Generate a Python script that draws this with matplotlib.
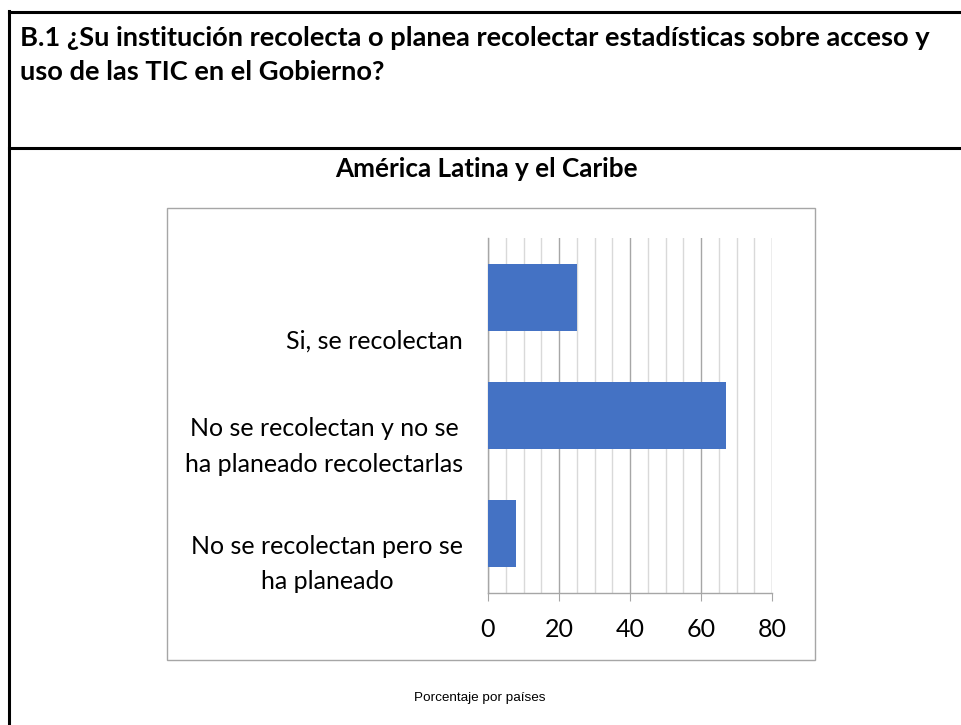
import numpy as np
import matplotlib
matplotlib.use("Agg")
import matplotlib.pyplot as plt
from matplotlib.lines import Line2D
from matplotlib import transforms

# data
categories = ["Si, se recolectan",
              "No se recolectan y no se\nha planeado recolectarlas",
              "No se recolectan pero se\nha planeado"]
values = [25, 67, 8]
xticks = [0, 20, 40, 60, 80]

header = "B.1 ¿Su institución recolecta o planea recolectar estadísticas sobre acceso y\nuso de las TIC en el Gobierno?"
title = "América Latina y el Caribe"
caption = "Porcentaje por países"

W, H = 961, 725
fig = plt.figure(figsize=(W / 100, H / 100), dpi=100)

def px(x, y):
    return x / W, 1 - y / H

# table borders
lw_b = 2.2
fig.add_artist(Line2D([px(9, 0)[0], 1.0], [px(0, 12)[1]] * 2, color="black", lw=lw_b))
fig.add_artist(Line2D([px(9, 0)[0], 1.0], [px(0, 148)[1]] * 2, color="black", lw=lw_b))
fig.add_artist(Line2D([px(9, 0)[0]] * 2, [px(0, 11)[1], 0], color="black", lw=lw_b))

fig.text(*px(20, 55), header, fontsize=19.6, fontweight="bold", family="Lato",
         ha="left", va="center", linespacing=1.55)

# chart frame
fig.add_artist(plt.Rectangle(px(167, 660), (815 - 167) / W, (660 - 208) / H,
                             fill=False, ec="#a6a6a6", lw=1.0))
fig.text(*px(486, 169), title, fontsize=18.8, fontweight="bold", family="Lato",
         ha="center", va="center")
fig.text(*px(480, 698), caption, fontsize=9.7, family="Liberation Sans",
         ha="center", va="center")

l, b = px(488, 593)
r, t = px(772, 238)
ax = fig.add_axes([l, b, r - l, t - b])

y = np.arange(len(categories))[::-1]
ax.barh(y, values, height=0.565, color="#4472C4", zorder=3)

ax.set_xlim(0, 80)
ax.set_ylim(-0.5, 2.5)
ax.set_xticks(xticks)
ax.set_xticks(np.arange(0, 81, 5), minor=True)
ax.set_xticklabels([str(v) for v in xticks], fontsize=18, family="Lato")
ax.tick_params(axis="x", which="major", length=6, color="#a6a6a6", pad=12)
ax.tick_params(axis="x", which="minor", length=0)
ax.set_yticks([])
ax.grid(axis="x", which="minor", color="#d9d9d9", lw=1.0, zorder=0)
ax.grid(axis="x", which="major", color="#a6a6a6", lw=1.0, zorder=1)
for s in ["top", "right"]:
    ax.spines[s].set_visible(False)
for s in ["left", "bottom"]:
    ax.spines[s].set_color("#a6a6a6")
    ax.spines[s].set_linewidth(1.0)

# category labels sit a bit below the bar centres, as in the original
drops = [44, 31, 30]
for yi, lab, d in zip(y, categories, drops):
    tr = transforms.blended_transform_factory(ax.transAxes, ax.transData)
    tr = tr + transforms.ScaledTranslation(-25 / 100, -d / 100, fig.dpi_scale_trans)
    ax.text(0, yi, lab, transform=tr, ha="right", va="center", multialignment="center",
            fontsize=18, family="Lato", linespacing=1.65)

fig.savefig("out.png", dpi=100)
